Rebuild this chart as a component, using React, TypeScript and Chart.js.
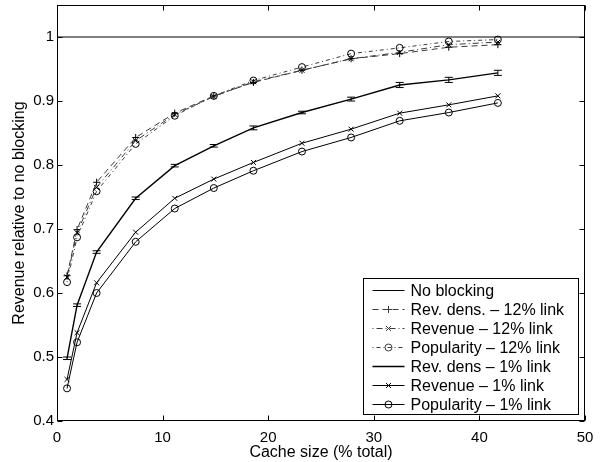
import React, { useEffect, useRef } from 'react';
import { Chart, registerables } from 'chart.js';

Chart.register(...registerables);

// ---- data ----
const cacheSize = [0.95, 1.9, 3.75, 7.45, 11.15, 14.85, 18.6, 23.2, 27.85, 32.45, 37.1, 41.75];
const noBlockingX = [0, 50];
const noBlockingY = [1, 1];
const revDens12 = [0.627, 0.699, 0.773, 0.843, 0.881, 0.908, 0.929, 0.948, 0.966, 0.974, 0.984, 0.988];
const revenue12 = [0.625, 0.694, 0.765, 0.838, 0.879, 0.907, 0.93, 0.948, 0.966, 0.976, 0.988, 0.992];
const popularity12 = [0.617, 0.687, 0.759, 0.833, 0.877, 0.908, 0.932, 0.953, 0.974, 0.983, 0.993, 0.996];
const revDens1 = [0.498, 0.581, 0.664, 0.748, 0.799, 0.83, 0.858, 0.882, 0.903, 0.925, 0.933, 0.944];
const revDens1Err = [0.002, 0.002, 0.002, 0.002, 0.002, 0.002, 0.003, 0.002, 0.003, 0.004, 0.004, 0.004];
const revenue1 = [0.465, 0.538, 0.616, 0.695, 0.748, 0.778, 0.804, 0.834, 0.856, 0.881, 0.894, 0.908];
const popularity1 = [0.451, 0.523, 0.6, 0.68, 0.732, 0.764, 0.791, 0.821, 0.843, 0.869, 0.882, 0.897];

const labels = [
  'No blocking',
  'Rev. dens. – 12% link',
  'Revenue – 12% link',
  'Popularity – 12% link',
  'Rev. dens – 1% link',
  'Revenue – 1% link',
  'Popularity – 1% link',
];
const xTitle = 'Cache size (% total)';
const yTitle = 'Revenue relative to no blocking';
const xTicks = [0, 10, 20, 30, 40, 50];
const yTicks = [0.4, 0.5, 0.6, 0.7, 0.8, 0.9, 1];

const FONT = '"Liberation Sans", Arial, Helvetica, sans-serif';

const pts = (xs: number[], ys: number[]) => xs.map((x, i) => ({ x, y: ys[i] }));

function drawMarker(ctx: CanvasRenderingContext2D, style: any, x: number, y: number, r: number) {
  if (!style || r <= 0) return;
  ctx.beginPath();
  if (style === 'circle') {
    ctx.arc(x, y, r, 0, Math.PI * 2);
  } else if (style === 'cross') {
    ctx.moveTo(x - r, y); ctx.lineTo(x + r, y);
    ctx.moveTo(x, y - r); ctx.lineTo(x, y + r);
  } else if (style === 'crossRot') {
    const d = r * Math.SQRT1_2;
    ctx.moveTo(x - d, y - d); ctx.lineTo(x + d, y + d);
    ctx.moveTo(x - d, y + d); ctx.lineTo(x + d, y - d);
  }
  ctx.stroke();
}

const framePlugin = {
  id: 'matlabFrame',
  afterDatasetsDraw(chart: any) {
    const { ctx, scales } = chart;
    ctx.save();
    ctx.strokeStyle = '#000';
    ctx.lineWidth = 1;
    ctx.setLineDash([]);
    revDens1.forEach((v, i) => {
      const x = scales.x.getPixelForValue(cacheSize[i]);
      const y1 = scales.y.getPixelForValue(v - revDens1Err[i]);
      const y2 = scales.y.getPixelForValue(v + revDens1Err[i]);
      ctx.beginPath();
      ctx.moveTo(x, y1); ctx.lineTo(x, y2);
      ctx.moveTo(x - 4, y1); ctx.lineTo(x + 4, y1);
      ctx.moveTo(x - 4, y2); ctx.lineTo(x + 4, y2);
      ctx.stroke();
    });
    ctx.restore();
  },
  afterDraw(chart: any) {
    const { ctx, chartArea: a, scales } = chart;
    ctx.save();
    ctx.strokeStyle = '#000';
    ctx.lineWidth = 1;
    ctx.setLineDash([]);
    const L = Math.round(a.left) + 0.5;
    const R = Math.round(a.right) - 0.5;
    const T = Math.round(a.top) + 0.5;
    const B = Math.round(a.bottom) - 0.5;
    ctx.strokeRect(L, T, R - L, B - T);
    const tl = 5;
    ctx.beginPath();
    xTicks.forEach((t) => {
      const x = Math.round(scales.x.getPixelForValue(t)) + 0.5;
      ctx.moveTo(x, B); ctx.lineTo(x, B - tl);
      ctx.moveTo(x, T); ctx.lineTo(x, T + tl);
    });
    yTicks.forEach((t) => {
      const y = Math.round(scales.y.getPixelForValue(t)) + 0.5;
      ctx.moveTo(L, y); ctx.lineTo(L + tl, y);
      ctx.moveTo(R, y); ctx.lineTo(R - tl, y);
    });
    ctx.stroke();

    // legend
    const boxR = Math.round(a.right) - 6.5;
    const boxB = Math.round(a.bottom) - 6.5;
    const boxW = 215;
    const boxH = 136;
    const boxL = boxR - boxW;
    const boxT = boxB - boxH;
    ctx.fillStyle = '#fff';
    ctx.fillRect(boxL, boxT, boxW, boxH);
    ctx.strokeRect(boxL, boxT, boxW, boxH);
    ctx.font = `16px ${FONT}`;
    ctx.textBaseline = 'middle';
    ctx.textAlign = 'left';
    chart.data.datasets.forEach((ds: any, i: number) => {
      const y = Math.round(boxT + 11.5 + i * 19.05) + 0.5;
      const x0 = boxL + 9;
      const x1 = boxL + 41;
      ctx.strokeStyle = ds.borderColor;
      ctx.lineWidth = ds.borderWidth;
      ctx.setLineDash(ds.borderDash || []);
      ctx.beginPath();
      ctx.moveTo(x0, y); ctx.lineTo(x1, y);
      ctx.stroke();
      ctx.setLineDash([]);
      ctx.lineWidth = 1;
      drawMarker(ctx, ds.pointStyle, (x0 + x1) / 2, y, ds.pointRadius);
      ctx.fillStyle = '#000';
      ctx.fillText(ds.label, boxL + 47, y + 1);
    });
    ctx.restore();
  },
};

export default function App() {
  const ref = useRef<HTMLCanvasElement>(null);
  useEffect(() => {
    if (!ref.current) return;
    const gray = '#3a3a3a';
    const chart = new Chart(ref.current, {
      type: 'line',
      data: {
        datasets: [
          {
            label: labels[0], data: pts(noBlockingX, noBlockingY), borderColor: '#000', borderWidth: 1,
            pointRadius: 0, pointStyle: false as any,
          },
          {
            label: labels[1], data: pts(cacheSize, revDens12), borderColor: gray, borderWidth: 1,
            borderDash: [6, 4], pointStyle: 'cross', pointRadius: 3.5, pointBorderColor: '#000',
            pointBackgroundColor: 'transparent', pointBorderWidth: 1,
          },
          {
            label: labels[2], data: pts(cacheSize, revenue12), borderColor: gray, borderWidth: 1,
            borderDash: [1, 3, 6, 3], pointStyle: 'crossRot', pointRadius: 3.5, pointBorderColor: '#000',
            pointBackgroundColor: 'transparent', pointBorderWidth: 1,
          },
          {
            label: labels[3], data: pts(cacheSize, popularity12), borderColor: gray, borderWidth: 1,
            borderDash: [1, 3, 4, 3], pointStyle: 'circle', pointRadius: 3.5, pointBorderColor: '#000',
            pointBackgroundColor: 'transparent', pointBorderWidth: 1,
          },
          {
            label: labels[4], data: pts(cacheSize, revDens1), borderColor: '#000', borderWidth: 1.4,
            pointRadius: 0, pointStyle: false as any,
          },
          {
            label: labels[5], data: pts(cacheSize, revenue1), borderColor: '#000', borderWidth: 1,
            pointStyle: 'crossRot', pointRadius: 3.5, pointBorderColor: '#000',
            pointBackgroundColor: 'transparent', pointBorderWidth: 1,
          },
          {
            label: labels[6], data: pts(cacheSize, popularity1), borderColor: '#000', borderWidth: 1,
            pointStyle: 'circle', pointRadius: 3.5, pointBorderColor: '#000',
            pointBackgroundColor: 'transparent', pointBorderWidth: 1,
          },
        ],
      },
      options: {
        responsive: false,
        animation: false,
        devicePixelRatio: 1,
        layout: { padding: { left: 10, right: 16, top: 5, bottom: 0 } },
        plugins: { legend: { display: false }, tooltip: { enabled: false } },
        elements: { line: { tension: 0 } },
        scales: {
          x: {
            type: 'linear', min: 0, max: 50,
            grid: { display: false, drawTicks: false },
            border: { display: false },
            ticks: {
              stepSize: 10, padding: 8, color: '#000', maxRotation: 0,
              font: { family: FONT, size: 15 },
            },
            title: { display: true, text: xTitle, color: '#000', font: { family: FONT, size: 16 }, padding: 0 },
            afterFit: (s: any) => { s.height = 41; s.paddingLeft = 0; s.paddingRight = 0; },
          },
          y: {
            type: 'linear', min: 0.4, max: 1.05,
            grid: { display: false, drawTicks: false },
            border: { display: false },
            ticks: {
              stepSize: 0.1, includeBounds: false, padding: 3, color: '#000',
              font: { family: FONT, size: 15 },
              callback: (v: any) => String(parseFloat(Number(v).toFixed(2))),
            },
            title: { display: true, text: yTitle, color: '#000', font: { family: FONT, size: 16 }, padding: 0 },
            afterFit: (s: any) => { s.width = 47; s.paddingTop = 0; s.paddingBottom = 0; },
          },
        },
      },
      plugins: [framePlugin],
    });
    return () => chart.destroy();
  }, []);
  return (
    <div style={{ position: 'fixed', left: 0, top: 0, width: 601, height: 462, background: '#fff' }}>
      <canvas ref={ref} width={601} height={462} style={{ display: 'block' }} />
    </div>
  );
}
